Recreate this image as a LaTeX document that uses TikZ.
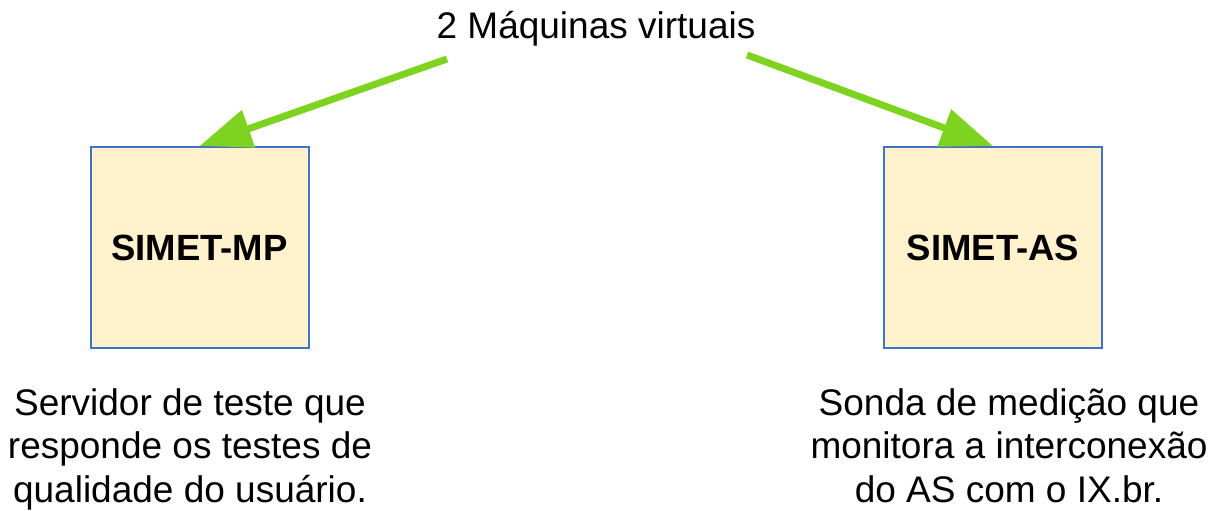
\documentclass[tikz,border=0pt]{standalone}
\usepackage{fontspec}
\setmainfont{Liberation Sans}
\usetikzlibrary{arrows.meta}
\definecolor{arrgreen}{RGB}{126,211,33}
\definecolor{boxfill}{RGB}{255,242,204}
\definecolor{boxline}{RGB}{68,114,196}
\tikzset{
  vmbox/.style={draw=boxline, line width=2pt, fill=boxfill, minimum width=218pt, minimum height=201pt, inner sep=0pt, font=\fontsize{36.5}{43}\selectfont\bfseries},
  desc/.style={align=center, inner sep=0pt, anchor=base, font=\fontsize{37}{43.5}\selectfont},
  greenarrow/.style={draw=arrgreen, line width=7pt, -{Triangle[length=52pt,width=38pt]}}
}
\begin{document}
\begin{tikzpicture}[x=1pt,y=-1pt]
\useasboundingbox (0,0) rectangle (1215,511);
\node[anchor=base, inner sep=0pt, font=\fontsize{37}{43.5}\selectfont] (title) at (596,39) {2 Máquinas virtuais};
\coordinate (lstart) at (447,59);
\coordinate (rstart) at (747,55);
\node[vmbox] (mp) at (199.5,247.5) {SIMET-MP};
\node[vmbox] (as) at (993,247.5) {SIMET-AS};
\draw[greenarrow] (lstart) -- (mp.north);
\draw[greenarrow] (rstart) -- (as.north);
\node[desc] (mpdesc) at (190,502) {Servidor de teste que\\responde os testes de\\qualidade do usuário.};
\node[desc] (asdesc) at (1009,502) {Sonda de medição que\\monitora a interconexão\\do AS com o IX.br.};
\end{tikzpicture}
\end{document}
